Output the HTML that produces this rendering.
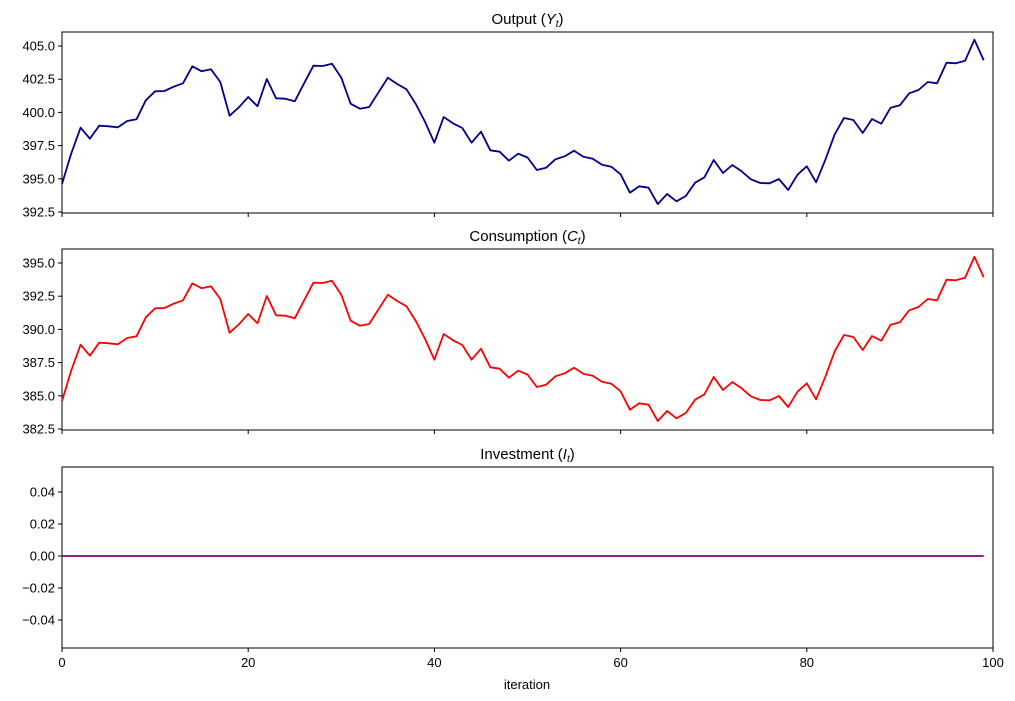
<!DOCTYPE html>
<html><head><meta charset="utf-8"><style>body{margin:0;background:#fff}svg{display:block}text{font-family:"Liberation Sans","DejaVu Sans",sans-serif;fill:#000}</style></head>
<body>
<svg id="s" width="1015" height="701" xmlns="http://www.w3.org/2000/svg"></svg>
<script>
const Y=[184,153.3,127.7,138.7,125.7,126.3,127.3,121,119.3,100.3,91.3,91,86.7,83.3,66.3,71.3,69.3,82,115.7,107.3,97,106.3,79,98.3,98.7,101.3,83.3,65.7,66,63.7,77.7,103.7,108.7,107,92.3,77.7,84,89.3,104,122,142.7,117,123.3,128,142.7,131.7,150.3,151.7,160.7,153.7,157.5,170,167.7,159.3,156.3,150.7,156.7,158.7,164.7,166.7,174.3,192.7,186.3,187.7,204,194,201.3,196,182.7,177.3,160,173,165,171.3,179.3,183,183.3,179,190,174.7,166.3,182.3,159.7,134.3,118,120,133,119,123.7,107.7,105.3,93.3,90,82,83.3,62.7,63.3,60.7,39.7,60.3];
const X0=62,X1=993,sx=(X1-X0)/100;
let h='';
function axes(top,bot,ticks,labels,title){
  h+=`<rect x="${X0}" y="${top}" width="${X1-X0}" height="${bot-top}" fill="none" stroke="#000" stroke-width="1"/>`;
  ticks.forEach((t,i)=>{h+=`<line x1="${X0-4}" x2="${X0}" y1="${t}" y2="${t}" stroke="#000"/><text x="${X0-7}" y="${t+4.5}" font-size="13" text-anchor="end">${labels[i]}</text>`;});
  for(let k=0;k<=5;k++){const x=X0+k*20*sx;h+=`<line x1="${x}" x2="${x}" y1="${bot}" y2="${bot+4}" stroke="#000"/>`;}
  h+=`<text x="${(X0+X1)/2}" y="${top-8}" font-size="15" text-anchor="middle">${title}</text>`;
}
function line(off,col){
  h+=`<polyline fill="none" stroke="${col}" stroke-width="1.8" stroke-linejoin="round" points="${Y.map((y,i)=>(X0+i*sx).toFixed(1)+','+(y+off).toFixed(1)).join(' ')}"/>`;
}
const t1=[46,79.2,112.4,145.6,178.8,212];
axes(32,213,t1,['405.0','402.5','400.0','397.5','395.0','392.5'],'Output (<tspan font-style="italic">Y</tspan><tspan font-style="italic" font-size="10" dy="3">t</tspan><tspan dy="-3">)</tspan>');
line(0,'#00008b');
axes(249,430,t1.map(t=>t+217),['395.0','392.5','390.0','387.5','385.0','382.5'],'Consumption (<tspan font-style="italic">C</tspan><tspan font-style="italic" font-size="10" dy="3">t</tspan><tspan dy="-3">)</tspan>');
line(217,'#ff0000');
axes(467,648,[492,524,556,588,620],['0.04','0.02','0.00','\u22120.02','\u22120.04'],'Investment (<tspan font-style="italic">I</tspan><tspan font-style="italic" font-size="10" dy="3">t</tspan><tspan dy="-3">)</tspan>');
h+=`<line x1="${X0}" x2="${X0+99*sx}" y1="556" y2="556" stroke="#800080" stroke-width="1.8"/>`;
for(let k=0;k<=5;k++){const x=X0+k*20*sx;h+=`<text x="${x}" y="667" font-size="13" text-anchor="middle">${k*20}</text>`;}
h+=`<text x="527" y="689" font-size="13" text-anchor="middle">iteration</text>`;
document.getElementById('s').innerHTML=h;
</script>
</body></html>
